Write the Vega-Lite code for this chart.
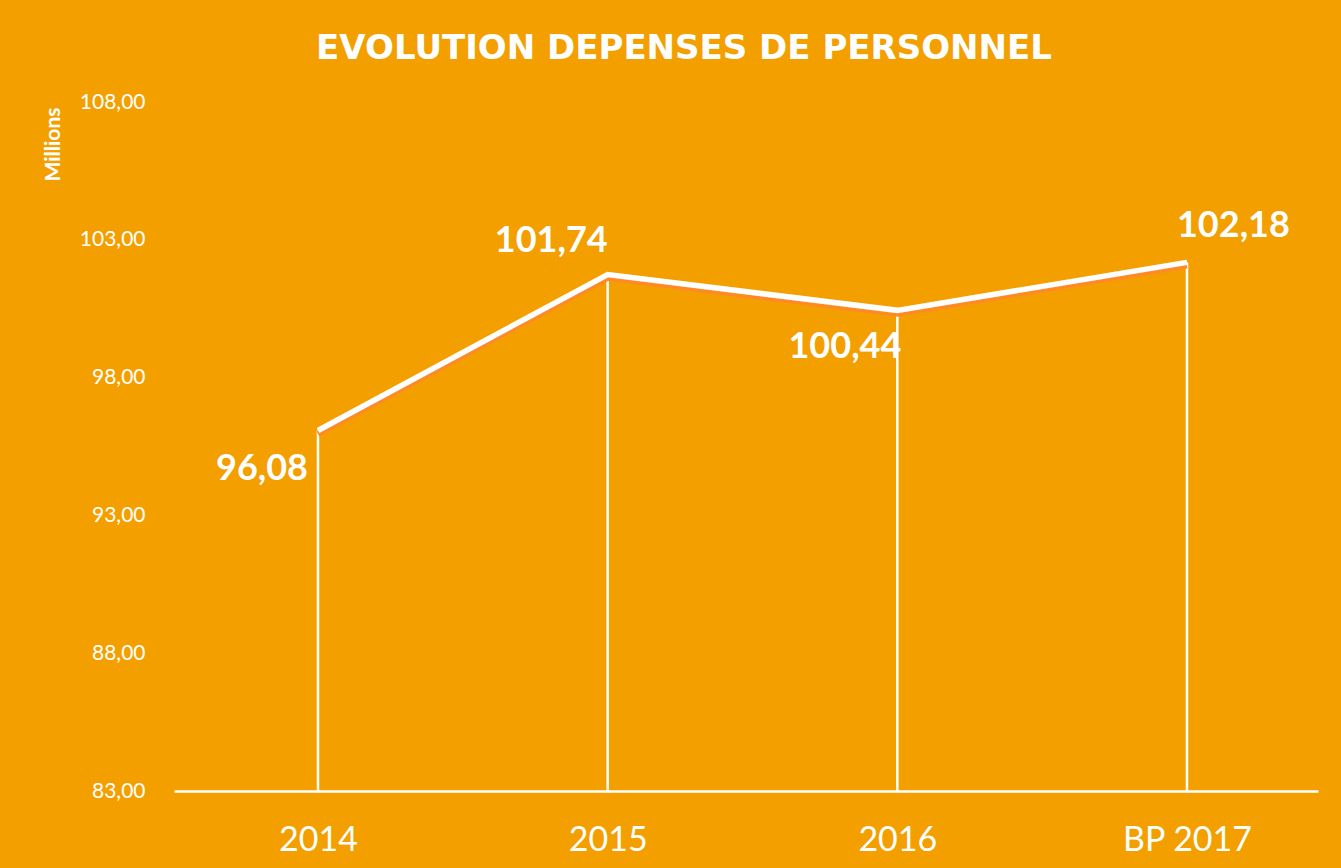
{
  "$schema": "https://vega.github.io/schema/vega-lite/v6.json",
  "width": 1144,
  "height": 689,
  "autosize": {"type": "none"},
  "padding": {"left": 174, "top": 102, "right": 23, "bottom": 77},
  "background": "#F39F00",
  "title": {
    "text": "EVOLUTION DEPENSES DE PERSONNEL",
    "color": "white",
    "font": "DejaVu Sans",
    "fontSize": 34,
    "fontWeight": "bold",
    "anchor": "middle",
    "dx": -62,
    "offset": 25
  },
  "config": {
    "view": {"stroke": null},
    "axis": {"grid": false}
  },
  "data": {
    "values": [
      {"annee": "2014", "valeur": 96.08, "label": "96,08"},
      {"annee": "2015", "valeur": 101.74, "label": "101,74"},
      {"annee": "2016", "valeur": 100.44, "label": "100,44"},
      {"annee": "BP 2017", "valeur": 102.18, "label": "102,18"}
    ]
  },
  "encoding": {
    "x": {
      "field": "annee",
      "type": "ordinal",
      "sort": null,
      "scale": {"type": "point", "padding": 0.4747, "align": 0.5236},
      "axis": {
        "title": null,
        "domain": true,
        "domainColor": "white",
        "domainWidth": 2.5,
        "ticks": false,
        "tickSize": 0,
        "labelAngle": 0,
        "labelColor": "white",
        "labelFont": "Lato",
        "labelFontSize": 34,
        "labelBaseline": "alphabetic",
        "labelPadding": 59
      }
    },
    "y": {
      "field": "valeur",
      "type": "quantitative",
      "scale": {"domain": [83, 108], "nice": false, "zero": false},
      "axis": {
        "values": [83, 88, 93, 98, 103, 108],
        "labelExpr": "replace(format(datum.value, '.2f'), '.', ',')",
        "domain": false,
        "ticks": false,
        "tickSize": 0,
        "labelColor": "white",
        "labelFont": "Lato",
        "labelFontSize": 21,
        "labelPadding": 29,
        "title": "Millions",
        "titleColor": "white",
        "titleFont": "Lato",
        "titleFontSize": 21,
        "titleFontWeight": "bold",
        "titleAngle": -90,
        "titleAlign": "right",
        "titleBaseline": "middle",
        "titleX": -121,
        "titleY": 5
      }
    }
  },
  "layer": [
    {
      "mark": {"type": "rule", "color": "white", "strokeWidth": 2.5},
      "encoding": {"y2": {"datum": 83}}
    },
    {
      "mark": {"type": "line", "color": "#FF8A24", "strokeWidth": 5.5, "yOffset": 3.5}
    },
    {
      "mark": {"type": "line", "color": "white", "strokeWidth": 5.5}
    },
    {
      "transform": [{"filter": "datum.annee == '2014'"}],
      "mark": {"type": "text", "color": "white", "font": "Lato", "fontSize": 36, "fontWeight": "bold", "align": "right", "baseline": "alphabetic", "dx": -10, "dy": 49},
      "encoding": {"text": {"field": "label"}}
    },
    {
      "transform": [{"filter": "datum.annee == '2015'"}],
      "mark": {"type": "text", "color": "white", "font": "Lato", "fontSize": 36, "fontWeight": "bold", "align": "right", "baseline": "alphabetic", "dx": 0, "dy": -23},
      "encoding": {"text": {"field": "label"}}
    },
    {
      "transform": [{"filter": "datum.annee == '2016'"}],
      "mark": {"type": "text", "color": "white", "font": "Lato", "fontSize": 36, "fontWeight": "bold", "align": "right", "baseline": "alphabetic", "dx": 4, "dy": 48},
      "encoding": {"text": {"field": "label"}}
    },
    {
      "transform": [{"filter": "datum.annee == 'BP 2017'"}],
      "mark": {"type": "text", "color": "white", "font": "Lato", "fontSize": 36, "fontWeight": "bold", "align": "left", "baseline": "alphabetic", "dx": -10, "dy": -25},
      "encoding": {"text": {"field": "label"}}
    }
  ]
}
